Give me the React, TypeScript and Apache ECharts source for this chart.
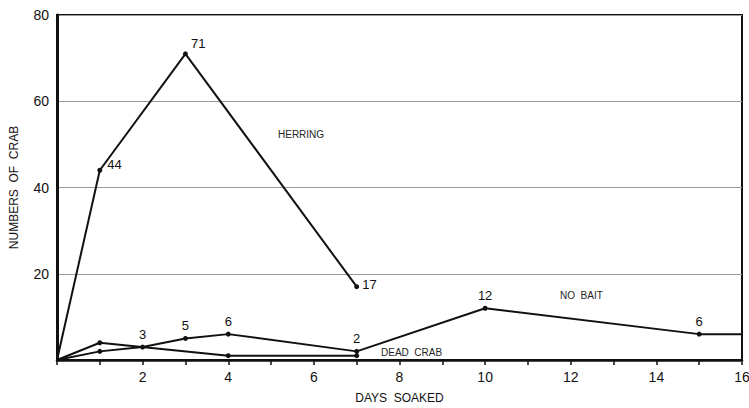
import React, { useEffect, useRef } from "react";
import * as echarts from "echarts";

const herringX = [0, 1, 3, 7];
const herringY = [0, 44, 71, 17];
const herringLabels = ["", "44", "71", "17"];

const noBaitX = [0, 1, 2, 3, 4, 7, 10, 15, 16];
const noBaitY = [0, 2, 3, 5, 6, 2, 12, 6, 6];
const noBaitLabels = ["", "", "3", "5", "6", "2", "12", "6", ""];

const deadCrabX = [0, 1, 4, 7];
const deadCrabY = [0, 4, 1, 1];

const xTickLabels = [2, 4, 6, 8, 10, 12, 14, 16];
const yTickLabels = [20, 40, 60, 80];

const FONT = "Liberation Sans";

export default function App() {
  const ref = useRef<HTMLDivElement>(null);
  useEffect(() => {
    if (!ref.current) return;
    const chart = echarts.init(ref.current, null, { renderer: "svg" });

    const herringData = herringX.map((x, i) => ({
      value: [x, herringY[i]],
      symbolSize: i === 0 ? 0 : 5,
      label: {
        show: herringLabels[i] !== "",
        formatter: herringLabels[i],
        position: i === 2 ? [8, -14] : i === 1 ? [10, -10] : [8, -6],
      },
    }));
    const noBaitData = noBaitX.map((x, i) => ({
      value: [x, noBaitY[i]],
      symbolSize: i === 0 || i === 8 ? 0 : 5,
      label: {
        show: noBaitLabels[i] !== "",
        formatter: noBaitLabels[i],
        position: "top",
        distance: 4,
      },
    }));
    const deadData = deadCrabX.map((x, i) => ({
      value: [x, deadCrabY[i]],
      symbolSize: i === 0 ? 0 : 5,
    }));

    const lineStyle = { color: "#111", width: 2 };
    const labelStyle = { color: "#111", fontFamily: FONT, fontSize: 13 };

    chart.setOption({
      animation: false,
      backgroundColor: "#fff",
      grid: {
        left: 57, right: 7, top: 15, bottom: 48,
        outerBoundsMode: "none", containLabel: false,
        show: true, borderColor: "#111", borderWidth: 2,
      },
      xAxis: {
        type: "value",
        min: 0,
        max: 16,
        interval: 1,
        name: "DAYS  SOAKED",
        nameLocation: "middle",
        nameGap: 32,
        nameTextStyle: { color: "#111", fontFamily: FONT, fontSize: 12 },
        axisLine: { show: true, lineStyle: { color: "#111", width: 2.5 } },
        axisTick: { show: true, length: 5, lineStyle: { color: "#111", width: 1.5 } },
        splitLine: { show: false },
        axisLabel: {
          color: "#111",
          fontFamily: FONT,
          fontSize: 14,
          margin: 10,
          formatter: (v: number) => (xTickLabels.includes(v) ? String(v) : ""),
        },
      },
      yAxis: {
        type: "value",
        min: 0,
        max: 80,
        interval: 20,
        name: "NUMBERS  OF  CRAB",
        nameLocation: "middle",
        nameGap: 37,
        nameTextStyle: { color: "#111", fontFamily: FONT, fontSize: 12 },
        axisLine: { show: true, lineStyle: { color: "#111", width: 3 } },
        axisTick: { show: false },
        splitLine: { show: true, lineStyle: { color: "#999", width: 1 } },
        axisLabel: {
          color: "#111",
          fontFamily: FONT,
          fontSize: 14,
          margin: 8,
          formatter: (v: number) => (yTickLabels.includes(v) ? String(v) : ""),
        },
      },
      series: [
        {
          type: "line",
          name: "HERRING",
          data: herringData,
          symbol: "circle",
          lineStyle,
          itemStyle: { color: "#111" },
          label: labelStyle,
        },
        {
          type: "line",
          name: "NO BAIT",
          data: noBaitData,
          symbol: "circle",
          lineStyle,
          itemStyle: { color: "#111" },
          label: labelStyle,
        },
        {
          type: "line",
          name: "DEAD CRAB",
          data: deadData,
          symbol: "circle",
          lineStyle,
          itemStyle: { color: "#111" },
        },
      ],
      graphic: [
        { type: "text", left: 278, top: 129, style: { text: "HERRING", fill: "#222", font: `10px ${FONT}` } },
        { type: "text", left: 560, top: 290, style: { text: "NO  BAIT", fill: "#222", font: `10px ${FONT}` } },
        { type: "text", left: 381, top: 347, style: { text: "DEAD  CRAB", fill: "#222", font: `10px ${FONT}` } },
      ],
    });
    return () => chart.dispose();
  }, []);
  return <div ref={ref} style={{ width: 749, height: 408, position: "absolute", left: 0, top: 0 }} />;
}
